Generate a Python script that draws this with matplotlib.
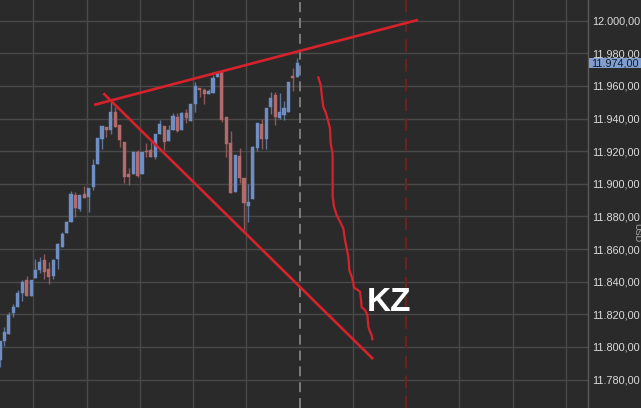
import matplotlib.pyplot as plt
from matplotlib.patches import Rectangle
from matplotlib.transforms import blended_transform_factory

# OHLC candles (5-minute bars, oldest first)
opens = [11792.0, 11803.7, 11808.0, 11820.8, 11824.5, 11833.1, 11841.1, 11831.3, 11842.3, 11847.2,
         11853.3, 11847.8, 11843.5, 11853.9, 11861.3, 11869.9, 11876.6, 11893.2, 11884.6, 11893.8,
         11892.0, 11898.1, 11912.2, 11927.5, 11934.9, 11933.0, 11944.1, 11936.1, 11925.7, 11906.1,
         11906.1, 11919.5, 11906.1, 11920.2, 11920.8, 11916.5, 11930.6, 11935.5, 11926.3, 11933.0,
         11941.0, 11933.0, 11943.4, 11938.6, 11949.0, 11958.8, 11957.6, 11955.1, 11955.7, 11965.5,
         11968.6, 11941.0, 11925.1, 11895.0, 11917.1, 11903.6, 11886.4, 11890.7, 11922.0, 11936.7,
         11927.5, 11947.1, 11954.5, 11940.4, 11942.2, 11944.1, 11966.1, 11965.5]
highs = [11803.7, 11812.2, 11821.4, 11826.3, 11834.9, 11841.1, 11843.5, 11841.1, 11853.9, 11855.2,
         11857.0, 11852.1, 11853.9, 11863.7, 11870.5, 11877.2, 11895.6, 11895.0, 11893.2, 11898.7,
         11897.5, 11915.3, 11928.1, 11935.5, 11934.9, 11950.2, 11947.1, 11936.1, 11925.7, 11909.7,
         11919.5, 11920.8, 11919.5, 11925.1, 11925.7, 11930.6, 11939.2, 11935.5, 11936.1, 11943.4,
         11943.4, 11944.1, 11945.9, 11949.0, 11962.5, 11958.8, 11958.8, 11958.2, 11966.8, 11968.6,
         11969.2, 11941.0, 11932.4, 11917.7, 11922.0, 11903.6, 11899.9, 11923.2, 11937.3, 11939.8,
         11946.5, 11956.3, 11956.3, 11955.7, 11950.8, 11962.5, 11971.0, 11977.2]
lows = [11787.7, 11800.6, 11808.0, 11818.4, 11824.5, 11828.2, 11831.3, 11831.3, 11842.3, 11845.4,
        11841.7, 11838.6, 11841.7, 11847.8, 11861.3, 11869.9, 11876.6, 11879.7, 11883.4, 11891.3,
        11882.8, 11896.2, 11912.2, 11921.4, 11928.7, 11930.6, 11934.9, 11922.6, 11900.5, 11899.3,
        11906.1, 11904.2, 11906.1, 11916.5, 11916.5, 11915.3, 11930.6, 11920.8, 11926.3, 11933.0,
        11931.8, 11933.0, 11937.3, 11938.6, 11944.1, 11953.3, 11949.0, 11955.1, 11955.7, 11965.5,
        11937.9, 11916.5, 11894.4, 11895.0, 11900.5, 11871.7, 11876.6, 11890.7, 11920.2, 11921.4,
        11921.4, 11942.8, 11936.1, 11939.8, 11939.2, 11944.1, 11956.9, 11965.5]
closes = [11803.7, 11809.2, 11819.6, 11824.5, 11833.1, 11839.8, 11831.3, 11841.1, 11847.2, 11852.1,
          11846.0, 11842.9, 11853.3, 11863.1, 11869.3, 11876.6, 11893.8, 11885.2, 11893.2, 11891.3,
          11897.5, 11911.6, 11928.1, 11935.5, 11933.0, 11944.1, 11934.9, 11926.9, 11904.2, 11904.2,
          11919.5, 11904.8, 11919.5, 11919.5, 11916.5, 11930.6, 11936.7, 11925.7, 11933.0, 11941.6,
          11932.4, 11943.4, 11940.4, 11949.0, 11960.0, 11957.6, 11955.1, 11956.9, 11964.9, 11968.0,
          11939.2, 11924.4, 11894.4, 11917.7, 11903.6, 11888.3, 11888.9, 11922.6, 11937.3, 11927.5,
          11946.5, 11952.6, 11941.0, 11944.1, 11946.5, 11962.5, 11964.9, 11974.0]

last_price = 11974.0

# hand drawn trend lines (bar index, price)
upper_x = [21.2, 94.2]
upper_y = [11948.4, 12000.5]
lower_x = [23.3, 84.1]
lower_y = [11955.5, 11792.6]

# freehand projection curve
proj_x = [71.75, 72.27, 72.57, 72.87, 73.47, 74.00, 74.37, 74.52, 74.90, 74.97, 74.97, 75.28,
          75.87, 76.63, 77.38, 77.75, 78.13, 78.51, 78.73, 79.26, 79.64, 79.78, 80.38, 81.14,
          81.36, 81.51, 82.26, 82.79, 83.02, 83.39, 83.77, 83.92]
proj_y = [11965.3, 11960.6, 11953.4, 11947.3, 11943.2, 11938.1, 11934.1, 11924.9, 11919.7,
          11914.6, 11892.1, 11886.0, 11880.9, 11876.8, 11872.7, 11865.6, 11860.5, 11855.4,
          11847.2, 11843.1, 11839.0, 11836.4, 11835.4, 11833.9, 11828.8, 11824.3, 11822.7,
          11819.6, 11812.4, 11809.4, 11807.3, 11804.7]

price_ticks = list(range(11780, 12001, 20))

bg = '#2a2a2a'
grid_c = '#494949'
up_c = '#6f8fc4'
down_c = '#b36a6a'
line_red = '#d8222b'


def fmt(v):
    return f'{v:,.2f}'.replace(',', 'X').replace('.', ',').replace('X', '.')


fig = plt.figure(figsize=(6.41, 4.08), dpi=100, facecolor=bg)
ax = fig.add_axes([0, 0, 588 / 641, 1])
ax.set_facecolor(bg)

n = len(opens)
xs = list(range(n))

# vertical grid every 12 bars
vgrid = [7.55 + 12 * k for k in range(11)]
for i, g in enumerate(vgrid):
    if i == 5:
        ax.axvline(g, color='#8a8a8a', lw=1.2, ls=(0, (6, 3.5)), zorder=1)
    elif i == 7:
        ax.axvline(g, color='#6e2025', lw=1.5, ls=(0, (6, 3.5)), zorder=1)
    else:
        ax.axvline(g, color=grid_c, lw=1, zorder=0)
for t in price_ticks:
    ax.axhline(t, color=grid_c, lw=1, zorder=0)

# candles
for x, o, h, l, c in zip(xs, opens, highs, lows, closes):
    col = up_c if c >= o else down_c
    ax.vlines(x, l, h, color=col, lw=1, alpha=0.75, zorder=2)
    bottom = min(o, c)
    height = max(abs(c - o), 0.8)
    ax.bar(x, height, bottom=bottom, width=0.7, color=col, edgecolor=col, lw=0.3, zorder=3)

# trend lines and projection
ax.plot(upper_x, upper_y, color=line_red, lw=1.9, solid_capstyle='butt', zorder=4)
ax.plot(lower_x, lower_y, color=line_red, lw=1.9, solid_capstyle='butt', zorder=4)
ax.plot(proj_x, proj_y, color=line_red, lw=1.6, zorder=4)

ax.text(87.6, 11827.5, 'KZ', color='white', fontsize=24, fontweight='bold',
        family='Liberation Sans', ha='center', va='center', zorder=5)

ax.set_xlim(0, 588 / 4.437)
ax.set_ylim(11762.6, 12012.7)
ax.set_xticks([])

# right price axis
ax.yaxis.tick_right()
ax.set_yticks(price_ticks)
ax.set_yticklabels([fmt(v) for v in price_ticks])
ax.tick_params(axis='y', length=0, pad=3, labelsize=7.8, labelcolor='#dcdcdc')
for lbl in ax.get_yticklabels():
    lbl.set_family('Liberation Sans')
for side in ['top', 'bottom', 'left']:
    ax.spines[side].set_visible(False)
ax.spines['right'].set_color('#5a5a5a')
ax.spines['right'].set_linewidth(1)

# last price marker
tr = blended_transform_factory(ax.transAxes, ax.transData)
ax.add_patch(Rectangle((1.002, last_price - 3.2), 0.09, 6.4, transform=tr,
                       facecolor='#809fcf', edgecolor='none', clip_on=False, zorder=6))
ax.text(1.006, last_price - 0.3, fmt(last_price),
        transform=tr, color='#111a28', fontsize=7.8, family='Liberation Sans',
        ha='left', va='center', clip_on=False, zorder=7)

fig.text(637 / 641, 1 - 233 / 408, 'USD', rotation=270, color='#b0b0b0', fontsize=6.5,
         family='Liberation Sans', ha='center', va='center')

fig.savefig('out.png', dpi=100, facecolor=bg)
